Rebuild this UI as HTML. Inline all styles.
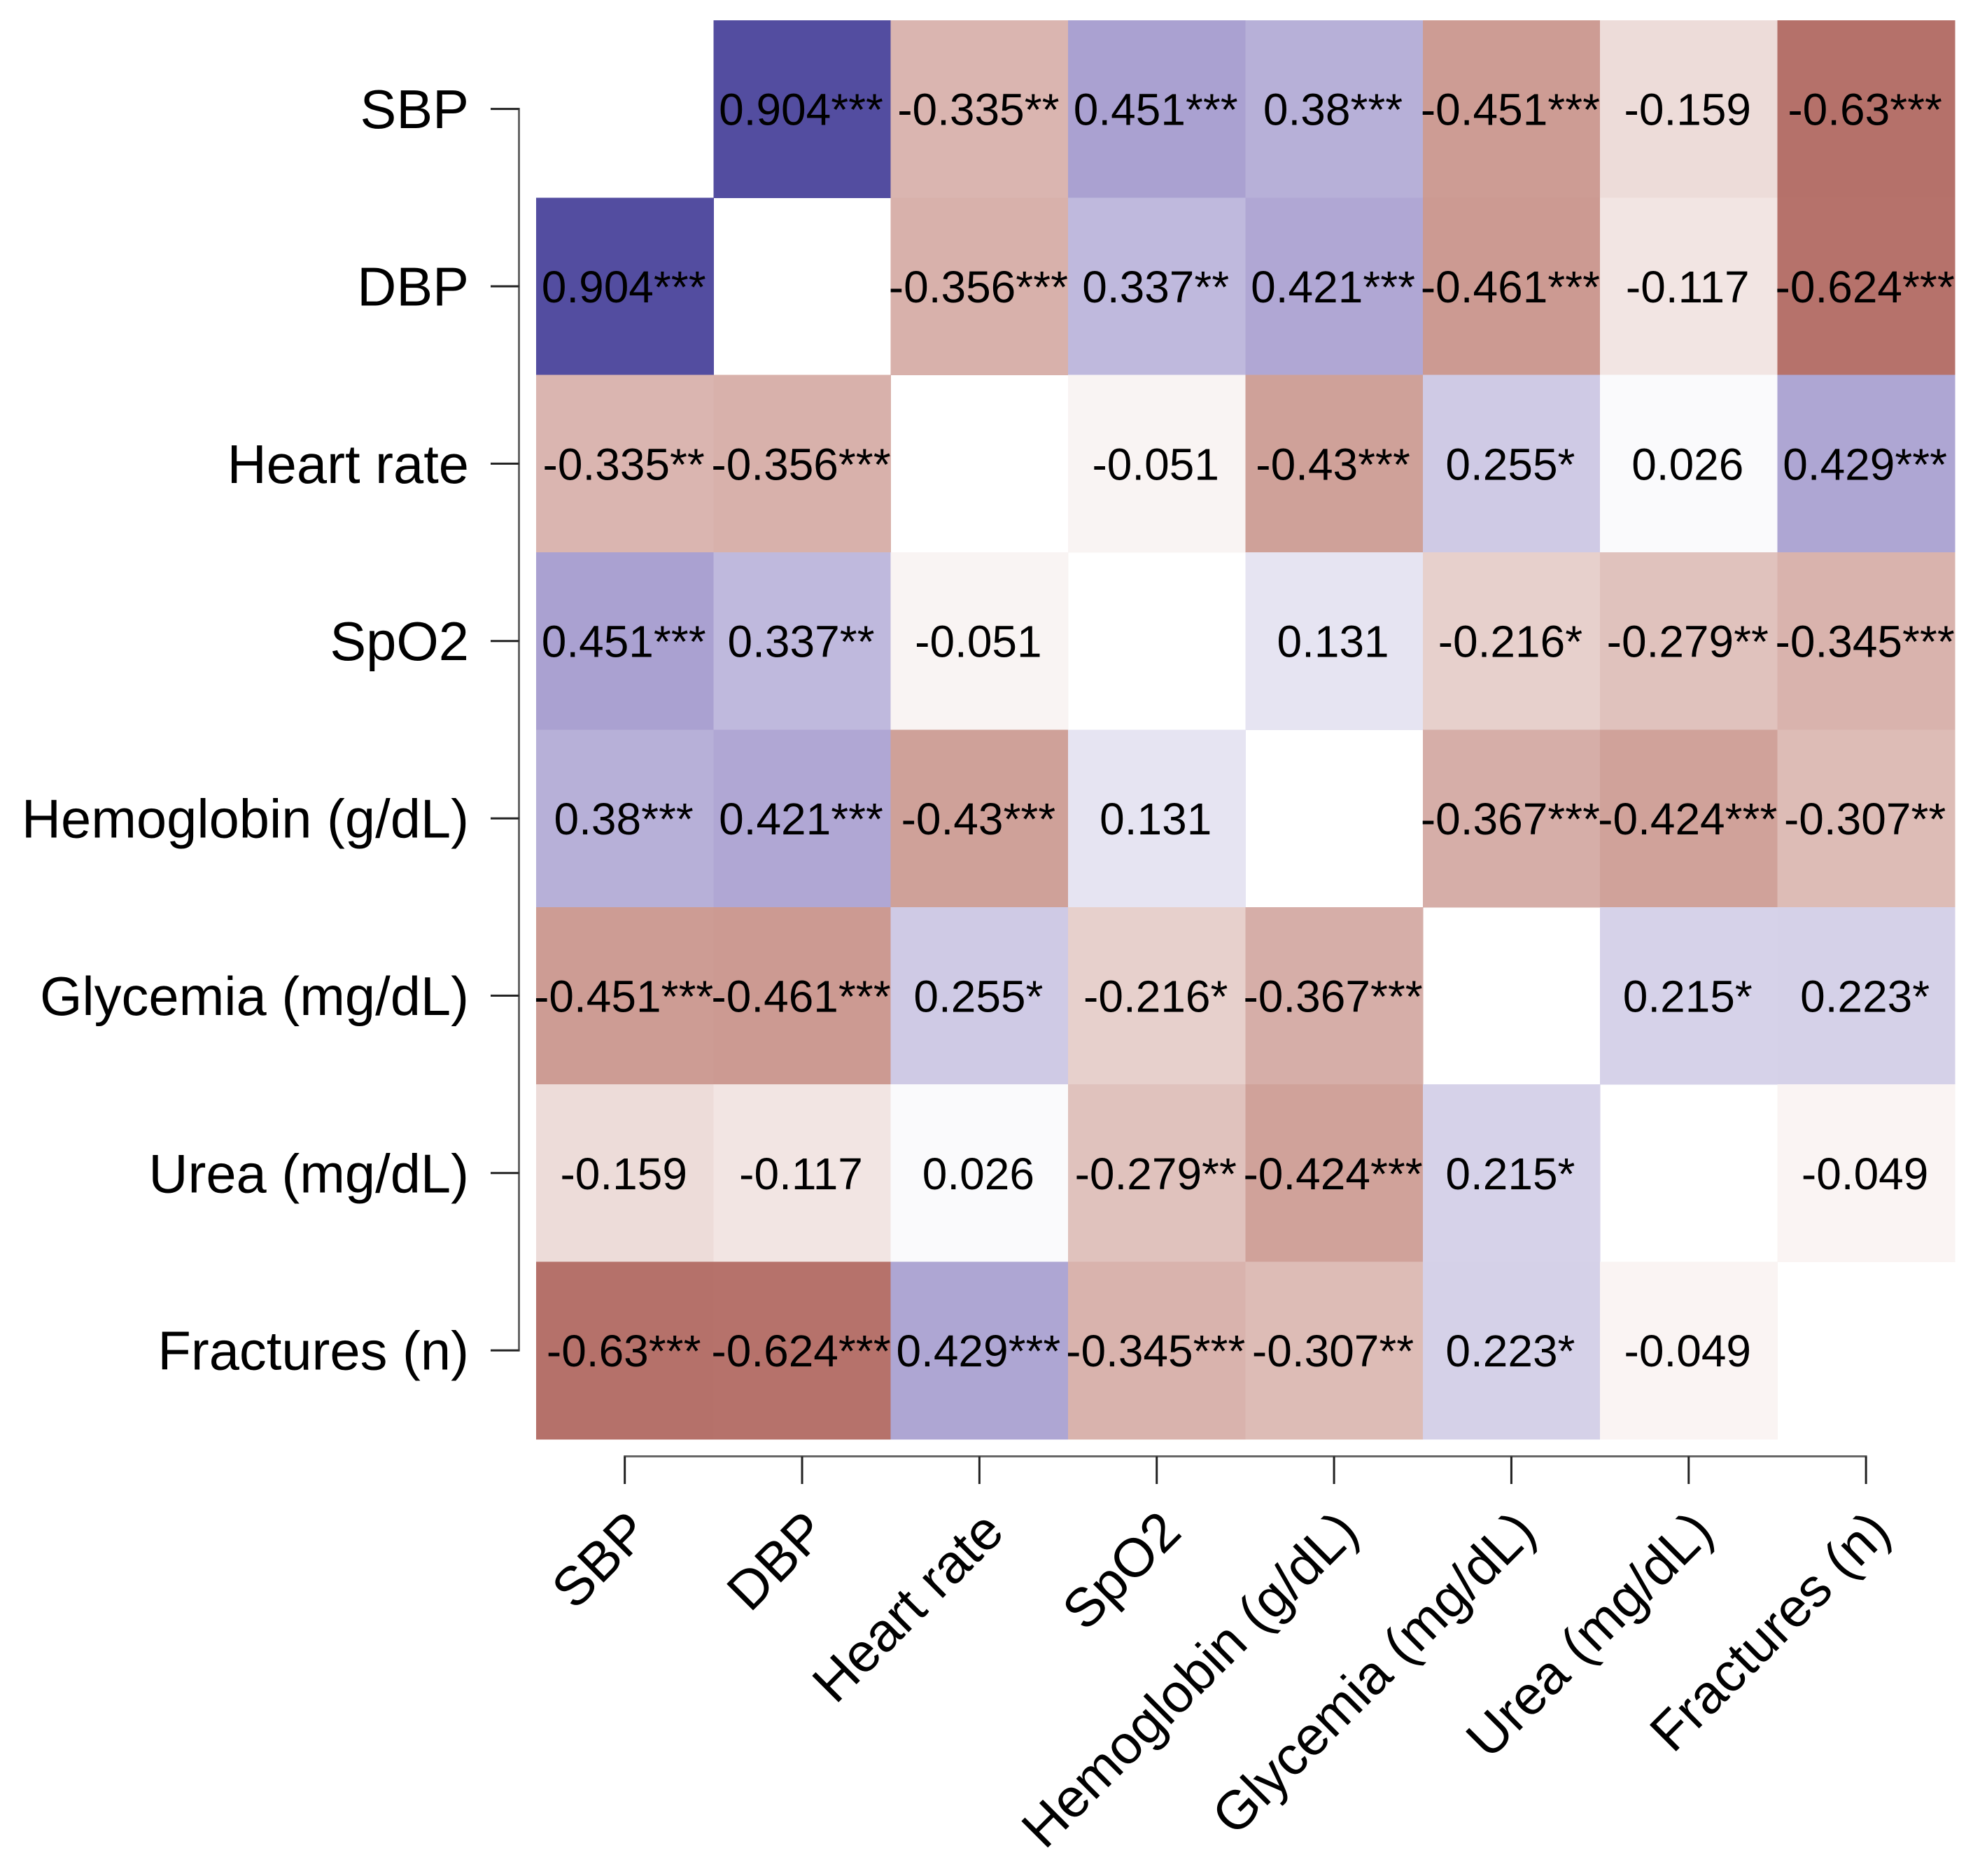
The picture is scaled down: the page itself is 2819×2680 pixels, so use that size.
<!DOCTYPE html>
<html lang="en">
<head>
<meta charset="utf-8">
<title>Correlation heatmap</title>
<style>
  html, body { margin: 0; padding: 0; background: #ffffff; }
  svg { display: block; font-family: "Liberation Sans", Arial, sans-serif; }
</style>
</head>
<body>
<svg id="chart" xmlns="http://www.w3.org/2000/svg" width="2819" height="2680" viewBox="0 0 2819 2680">
  <rect x="0" y="0" width="2819" height="2680" fill="#ffffff"></rect>
</svg>
<script>
const categories = ["SBP", "DBP", "Heart rate", "SpO2", "Hemoglobin (g/dL)", "Glycemia (mg/dL)", "Urea (mg/dL)", "Fractures (n)"];

const rowSBP        = [null, 0.904, -0.335, 0.451, 0.38, -0.451, -0.159, -0.63];
const rowDBP        = [0.904, null, -0.356, 0.337, 0.421, -0.461, -0.117, -0.624];
const rowHeartRate  = [-0.335, -0.356, null, -0.051, -0.43, 0.255, 0.026, 0.429];
const rowSpO2       = [0.451, 0.337, -0.051, null, 0.131, -0.216, -0.279, -0.345];
const rowHemoglobin = [0.38, 0.421, -0.43, 0.131, null, -0.367, -0.424, -0.307];
const rowGlycemia   = [-0.451, -0.461, 0.255, -0.216, -0.367, null, 0.215, 0.223];
const rowUrea       = [-0.159, -0.117, 0.026, -0.279, -0.424, 0.215, null, -0.049];
const rowFractures  = [-0.63, -0.624, 0.429, -0.345, -0.307, 0.223, -0.049, null];
const correlations = [rowSBP, rowDBP, rowHeartRate, rowSpO2, rowHemoglobin, rowGlycemia, rowUrea, rowFractures];

const starsSBP        = ["", "***", "**", "***", "***", "***", "", "***"];
const starsDBP        = ["***", "", "***", "**", "***", "***", "", "***"];
const starsHeartRate  = ["**", "***", "", "", "***", "*", "", "***"];
const starsSpO2       = ["***", "**", "", "", "", "*", "**", "***"];
const starsHemoglobin = ["***", "***", "***", "", "", "***", "***", "**"];
const starsGlycemia   = ["***", "***", "*", "*", "***", "", "*", "*"];
const starsUrea       = ["", "", "", "**", "***", "*", "", ""];
const starsFractures  = ["***", "***", "***", "***", "**", "*", "", ""];
const significance = [starsSBP, starsDBP, starsHeartRate, starsSpO2, starsHemoglobin, starsGlycemia, starsUrea, starsFractures];

const svg = document.getElementById('chart');
const NS = 'http://www.w3.org/2000/svg';

const gridLeft = 766;
const gridTop = 29;
const cellSize = 253.35;

function xScale(i) { return gridLeft + cellSize * i; }
function yScale(i) { return gridTop + cellSize * i; }

function lerpColor(a, b, t) {
  const rgb = a.map(function (v, i) { return Math.round(v + (b[i] - v) * t); });
  return 'rgb(' + rgb.join(',') + ')';
}

function colorScale(v) {
  const white = [255, 255, 255];
  if (v >= 0) {
    if (v <= 0.451) return lerpColor(white, [170, 161, 209], v / 0.451);
    return lerpColor([170, 161, 209], [83, 77, 160], (v - 0.451) / 0.453);
  }
  const m = -v;
  if (m <= 0.451) return lerpColor(white, [205, 156, 148], m / 0.451);
  return lerpColor([205, 156, 148], [181, 113, 106], (m - 0.451) / 0.179);
}

function make(tag, attrs, parent) {
  const el = document.createElementNS(NS, tag);
  Object.keys(attrs).forEach(function (k) { el.setAttribute(k, attrs[k]); });
  parent.appendChild(el);
  return el;
}

const n = categories.length;

const cellGroup = make('g', { 'shape-rendering': 'crispEdges' }, svg);



correlations.forEach(function (row, r) {
  row.forEach(function (value, c) {
    if (value === null) return;
    const cell = make('rect', {
      x: xScale(c), y: yScale(r), width: cellSize + 0.5, height: cellSize + 0.5,
      fill: colorScale(value)
    }, cellGroup);
    
    
  });
});

const valueGroup = make('g', {}, svg);



correlations.forEach(function (row, r) {
  row.forEach(function (value, c) {
    if (value === null) return;
    const label = make('text', {
      x: xScale(c + 0.5) - 1.5, y: yScale(r + 0.5) + 23,
      'text-anchor': 'middle', 'font-size': 64, fill: '#000000'
    }, valueGroup);
    
    
    label.textContent = String(value) + significance[r][c];
  });
});

/* Y axis */
const yAxis = make('g', {}, svg);



const yLine = make('line', {
  x1: 741.5, x2: 741.5, y1: yScale(0.5) - 1.5, y2: yScale(n - 0.5) + 1.5,
  stroke: '#666666', 'stroke-width': 3
}, yAxis);



categories.forEach(function (name, i) {
  const tick = make('line', {
    x1: 701, x2: 741.5, y1: yScale(i + 0.5), y2: yScale(i + 0.5),
    stroke: '#222222', 'stroke-width': 3
  }, yAxis);
  
  

  const label = make('text', {
    x: 670, y: yScale(i + 0.5) + 27.5,
    'text-anchor': 'end', 'font-size': 77.7, fill: '#000000'
  }, yAxis);
  
  
  label.textContent = name;
});

/* X axis */
const xAxis = make('g', {}, svg);



const xLine = make('line', {
  x1: xScale(0.5) - 1.5, x2: xScale(n - 0.5) + 1.5, y1: 2080.5, y2: 2080.5,
  stroke: '#666666', 'stroke-width': 3
}, xAxis);



categories.forEach(function (name, i) {
  const tx = xScale(i + 0.5);
  const tick = make('line', {
    x1: tx, x2: tx, y1: 2080.5, y2: 2120,
    stroke: '#222222', 'stroke-width': 3
  }, xAxis);
  
  

  const ax = tx + 38.5;
  const ay = 2192;
  const label = make('text', {
    x: ax, y: ay, transform: 'rotate(-45 ' + ax + ' ' + ay + ')',
    'text-anchor': 'end', 'font-size': 77.7, fill: '#000000'
  }, xAxis);
  
  
  label.textContent = name;
});
</script>
</body>
</html>
